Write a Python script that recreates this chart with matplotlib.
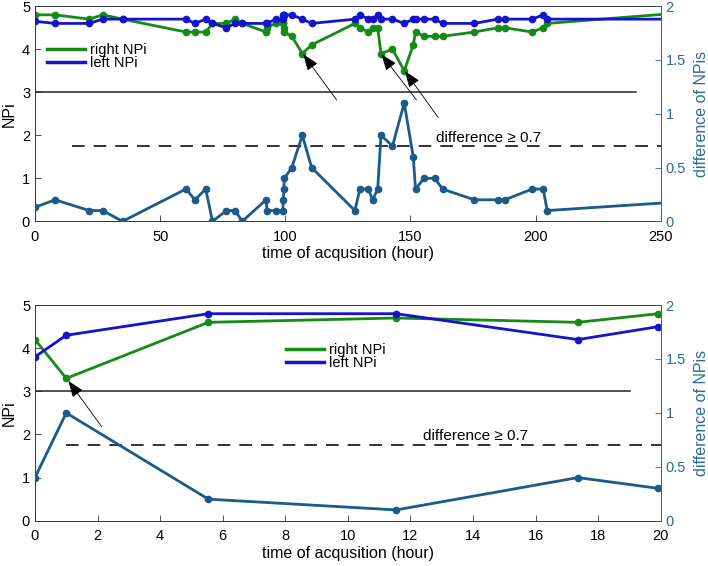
import matplotlib
matplotlib.use('Agg')
import matplotlib.pyplot as plt
from matplotlib.lines import Line2D

plt.rcParams['font.family'] = ['Liberation Sans', 'DejaVu Sans']
plt.rcParams['font.size'] = 10

# ---- data ----
# top panel: full time range
hours_top = [0, 8, 21.7, 27, 35, 60.3, 63.9, 68.2, 70.9, 76.5, 79.9, 82.8,
             92.3, 92.7, 96.1, 99.0, 99.2, 99.4, 99.6, 102.6, 106.8, 110.5,
             127.8, 129.8, 133.1, 134.9, 136.9, 138.2, 142.8, 147.5, 151.1,
             152.0, 155.4, 159.7, 162.8, 175.5, 185.0, 187.7, 198.6, 203.0,
             204.6, 270]
right_top = [4.8, 4.8, 4.7, 4.8, 4.7, 4.4, 4.4, 4.4, 4.6, 4.6, 4.7, 4.6,
             4.4, 4.5, 4.6, 4.6, 4.6, 4.5, 4.4, 4.3, 3.9, 4.1,
             4.6, 4.5, 4.4, 4.5, 4.5, 3.9, 4.0, 3.5, 4.1,
             4.4, 4.3, 4.3, 4.3, 4.4, 4.5, 4.5, 4.4, 4.5,
             4.6, 4.9]
left_top = [4.65, 4.6, 4.6, 4.7, 4.7, 4.7, 4.6, 4.7, 4.6, 4.5, 4.6, 4.6,
            4.6, 4.6, 4.7, 4.7, 4.8, 4.8, 4.8, 4.8, 4.7, 4.6,
            4.7, 4.8, 4.7, 4.7, 4.8, 4.7, 4.7, 4.6, 4.7,
            4.7, 4.7, 4.7, 4.6, 4.6, 4.7, 4.7, 4.7, 4.8,
            4.7, 4.7]
diff_top = [0.13, 0.2, 0.1, 0.1, 0, 0.3, 0.2, 0.3, 0, 0.1, 0.1, 0,
            0.2, 0.1, 0.1, 0.1, 0.2, 0.3, 0.4, 0.5, 0.8, 0.5,
            0.1, 0.3, 0.3, 0.2, 0.3, 0.8, 0.7, 1.1, 0.6,
            0.3, 0.4, 0.4, 0.3, 0.2, 0.2, 0.2, 0.3, 0.3,
            0.1, 0.2]

# bottom panel: first 20 hours
hours_bot = [0, 1.0, 5.54, 11.54, 17.35, 19.92]
right_bot = [4.2, 3.3, 4.6, 4.7, 4.6, 4.8]
left_bot = [3.8, 4.3, 4.8, 4.8, 4.2, 4.5]
diff_bot = [0.4, 1.0, 0.2, 0.1, 0.4, 0.3]

threshold_npi = 3
threshold_diff = 0.7

green = '#158a15'
blue = '#1414cc'
dcol = '#1b5a8a'
rcol = '#2a6aa0'
frame = '#333333'


def draw_panel(ax, t, right, left, diff, xmax, xticks, solid_end, dash_start,
               leg_anchor, text_xy, arrows):
    ax.plot([0, solid_end], [threshold_npi, threshold_npi], color='#222222', lw=1.1)
    ax.plot(t, right, '-o', color=green, lw=2, ms=4.5)
    ax.plot(t, left, '-o', color=blue, lw=2, ms=4.5)
    ax.set_xlim(0, xmax)
    ax.set_ylim(0, 5)
    ax.set_xticks(xticks)
    ax.set_yticks([0, 1, 2, 3, 4, 5])
    ax.set_ylabel('NPi', labelpad=4, fontsize=11.5)
    ax.set_xlabel('time of acqusition (hour)', labelpad=2, fontsize=11.5)
    ax.tick_params(direction='in', length=4, width=0.6, colors=frame,
                   labelcolor='black', labelsize=10.5)
    ax.tick_params(axis='x', pad=6)
    for s in ax.spines.values():
        s.set_color(frame)
        s.set_linewidth(0.7)
    handles = [Line2D([], [], color=green, lw=2.5),
               Line2D([], [], color=blue, lw=2.5)]
    ax.legend(handles, ['right NPi', 'left NPi'], loc='upper left',
              bbox_to_anchor=leg_anchor, frameon=False, handlelength=2.6,
              handletextpad=0.35, labelspacing=-0.1, fontsize=10.5,
              borderaxespad=0)

    tw = ax.twinx()
    tw.plot([dash_start, xmax], [threshold_diff, threshold_diff], color='#222222',
            lw=1.3, dashes=(7, 5))
    tw.plot(t, diff, '-o', color=dcol, lw=2, ms=4.5)
    tw.set_ylim(0, 2)
    tw.set_xlim(0, xmax)
    tw.set_yticks([0, 0.5, 1, 1.5, 2])
    tw.set_yticklabels(['0', '0.5', '1', '1.5', '2'])
    tw.set_ylabel('difference of NPis', color=rcol, labelpad=6, fontsize=11.5)
    tw.tick_params(axis='y', direction='in', length=4, width=0.6, colors=rcol,
                   labelsize=10.5)
    tw.spines['right'].set_color(rcol)
    tw.spines['right'].set_linewidth(0.7)
    for k in ['left', 'top', 'bottom']:
        tw.spines[k].set_visible(False)

    tw.text(text_xy[0], text_xy[1], 'difference \u2265 0.7', transform=ax.transData,
            fontsize=11, ha='left', va='bottom')
    for head, tail in arrows:
        tw.annotate('', xy=head, xytext=tail, xycoords=ax.transData,
                    textcoords=ax.transData,
                    arrowprops=dict(arrowstyle='-|>,head_length=1.0,head_width=0.38',
                                    color='black', lw=0.6, shrinkA=0, shrinkB=0))


fig = plt.figure(figsize=(7.08, 5.66), dpi=100)
ax_top = fig.add_axes([0.0494, 0.609, 0.884, 0.380])
ax_bot = fig.add_axes([0.0494, 0.080, 0.884, 0.381])

draw_panel(ax_top, hours_top, right_top, left_top, diff_top, 250,
           [0, 50, 100, 150, 200, 250], 240, 14.6, (0.0094, 0.855), (160, 1.78),
           [((107.2, 3.88), (120.5, 2.82)),
            ((138.4, 3.88), (152.4, 2.82)),
            ((147.8, 3.49), (161.1, 2.41))])

draw_panel(ax_bot, hours_bot, right_bot, left_bot, diff_bot, 20,
           [0, 2, 4, 6, 8, 10, 12, 14, 16, 18, 20], 19.0, 1.0, (0.392, 0.85),
           (12.4, 1.8),
           [((1.07, 3.24), (2.13, 2.18))])

fig.savefig('out.png', dpi=100)
